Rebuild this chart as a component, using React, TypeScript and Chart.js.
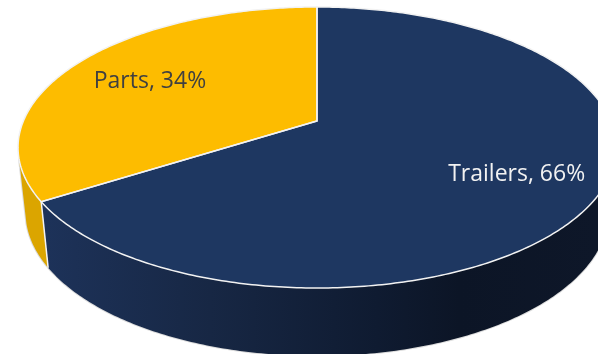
import { useEffect, useRef } from "react";
import { Chart, registerables } from "chart.js";

Chart.register(...registerables);

const categories = ["Trailers", "Parts"];
const shares = [66, 34];
const faceColors = ["#1e3761", "#fdbc00"];
const labelColors = ["#f2f2f2", "#404040"];
const labelReach = [0.725, 0.69];

// Tilted disc: a unit circle projected with perspective onto the canvas.
const APEX_X = 317;
const APEX_Y = 121;
const SPREAD_X = 293.6;
const SPREAD_Y = 135.5;
const TILT = -0.1886;

type Pt = { x: number; y: number };

function project(u: number, v: number): Pt {
  const d = 1 + TILT * v;
  return { x: APEX_X + (SPREAD_X * u) / d, y: APEX_Y + (SPREAD_Y * v) / d };
}

function rim(angle: number): Pt {
  return project(Math.cos(angle), Math.sin(angle));
}

// The lower edge of the disc, a little narrower and offset downward.
function lowerRim(angle: number): Pt {
  const p = rim(angle);
  return {
    x: APEX_X + (p.x - APEX_X) * 0.975,
    y: p.y + 66 + (p.y - 204) * 0.024,
  };
}

function tracePoints(from: number, to: number, at: (a: number) => Pt, first: boolean, ctx: CanvasRenderingContext2D) {
  const steps = Math.max(2, Math.ceil(Math.abs(to - from) * 80));
  for (let i = 0; i <= steps; i++) {
    const p = at(from + ((to - from) * i) / steps);
    if (first && i === 0) ctx.moveTo(p.x, p.y);
    else ctx.lineTo(p.x, p.y);
  }
}

function wallPath(ctx: CanvasRenderingContext2D, from: number, to: number) {
  ctx.beginPath();
  tracePoints(from, to, rim, true, ctx);
  tracePoints(to, from, lowerRim, false, ctx);
  ctx.closePath();
}

function slicePath(ctx: CanvasRenderingContext2D, from: number, to: number) {
  ctx.beginPath();
  ctx.moveTo(APEX_X, APEX_Y);
  tracePoints(from, to, rim, false, ctx);
  ctx.closePath();
}

const disc3d = {
  id: "disc3d",
  beforeDatasetDraw(chart: Chart) {
    const ctx = chart.ctx;
    const arcs = chart.getDatasetMeta(0).data as any[];
    const seam = arcs[0].endAngle;
    // Where the wall's silhouette leaves the rim on the left.
    const wallEnd = Math.PI * 0.915;

    const navy = ctx.createLinearGradient(45, 0, 598, 0);
    navy.addColorStop(0, "#1d3259");
    navy.addColorStop(0.3, "#172744");
    navy.addColorStop(0.6, "#0f1b31");
    navy.addColorStop(0.75, "#0c1526");
    navy.addColorStop(1, "#0e1729");

    ctx.save();
    wallPath(ctx, 0, wallEnd);
    ctx.strokeStyle = "#dcdcdc";
    ctx.lineWidth = 2;
    ctx.stroke();

    wallPath(ctx, 0, seam);
    ctx.fillStyle = navy;
    ctx.fill();

    wallPath(ctx, seam, wallEnd);
    ctx.fillStyle = "#dba500";
    ctx.fill();

    // White edge between the two wall sections.
    const top = rim(seam);
    const bottom = lowerRim(seam);
    ctx.strokeStyle = "#f4f4f4";
    ctx.lineWidth = 1.5;
    ctx.beginPath();
    ctx.moveTo(top.x, top.y);
    ctx.lineTo(bottom.x, bottom.y);
    ctx.stroke();

    // Top face slices.
    arcs.forEach((arc, i) => {
      slicePath(ctx, arc.startAngle, arc.endAngle);
      ctx.fillStyle = faceColors[i];
      ctx.fill();
    });
    arcs.forEach((arc) => {
      slicePath(ctx, arc.startAngle, arc.endAngle);
      ctx.strokeStyle = "#f2f2f2";
      ctx.lineWidth = 1.5;
      ctx.stroke();
    });

    // Category labels.
    ctx.font = "23px 'Open Sans', sans-serif";
    ctx.textAlign = "center";
    ctx.textBaseline = "middle";
    arcs.forEach((arc, i) => {
      const mid = (arc.startAngle + arc.endAngle) / 2;
      const p = project(
        Math.cos(mid) * labelReach[i],
        Math.sin(mid) * labelReach[i],
      );
      ctx.fillStyle = labelColors[i];
      ctx.fillText(`${categories[i]}, ${shares[i]}%`, p.x, p.y + 2.5);
    });
    ctx.restore();
    return false;
  },
};

export default function App() {
  const canvasRef = useRef<HTMLCanvasElement>(null);

  useEffect(() => {
    document.body.style.margin = "0";
    const chart = new Chart(canvasRef.current!, {
      type: "pie",
      data: {
        labels: categories,
        datasets: [{ data: shares, backgroundColor: faceColors }],
      },
      options: {
        animation: false,
        responsive: false,
        plugins: { legend: { display: false }, tooltip: { enabled: false } },
      },
      plugins: [disc3d as any],
    });
    return () => chart.destroy();
  }, []);

  return <canvas ref={canvasRef} width={598} height={354} style={{ display: "block" }} />;
}
